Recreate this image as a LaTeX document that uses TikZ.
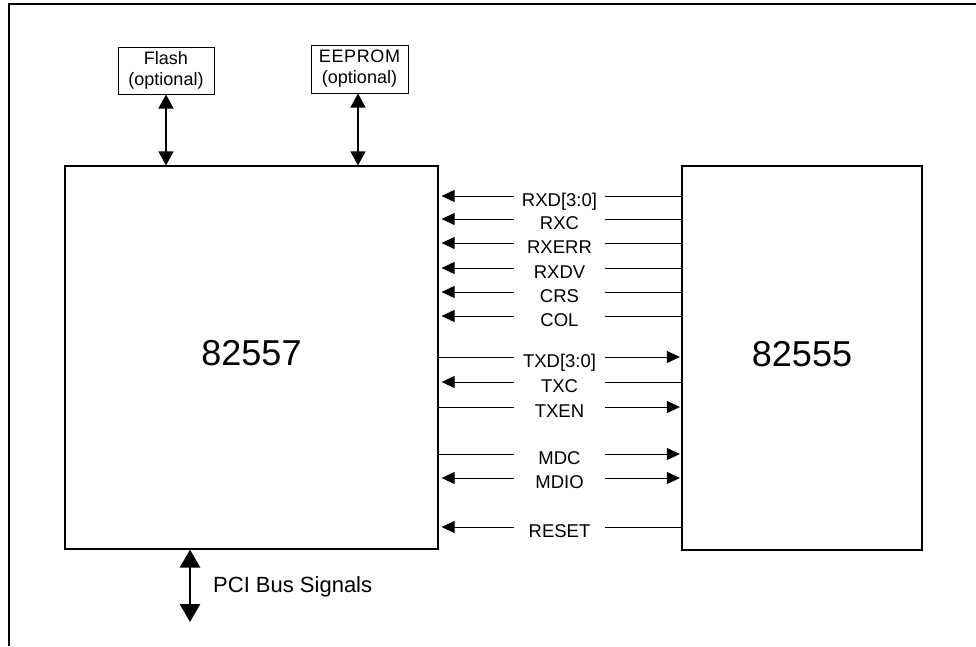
\documentclass[tikz,border=0pt]{standalone}
\usepackage{fontspec}
\setmainfont{Liberation Sans}
\usetikzlibrary{arrows.meta,positioning}
\tikzset{
  chipbox/.style={draw,line width=1.2pt,inner sep=0pt,font=\fontsize{36}{40}\selectfont,text height=26pt,text depth=10pt},
  membox/.style={draw,line width=1pt,inner sep=0pt,align=center,font=\fontsize{18}{21}\selectfont},
  siglabel/.style={inner sep=0pt,minimum width=91pt,font=\fontsize{18.5}{20}\selectfont,text height=22pt,text depth=2pt},
  sigwire/.style={line width=0.9pt},
  sigleft/.style={-{Triangle[length=13pt,width=12pt]},line width=0.9pt,shorten >=3pt},
  sigright/.style={-{Triangle[length=13pt,width=12pt]},line width=0.9pt,shorten >=1.5pt},
  sigboth/.style={{Triangle[length=13pt,width=12pt]}-{Triangle[length=13pt,width=12pt]},line width=0.9pt},
  memarrow/.style={{Triangle[length=14pt,width=15pt]}-{Triangle[length=14pt,width=15pt]},line width=1.2pt},
  busarrow/.style={{Triangle[length=18pt,width=20pt]}-{Triangle[length=18pt,width=20pt]},line width=2.6pt},
}

\begin{document}
\begin{tikzpicture}[x=1pt,y=-1pt]
  \useasboundingbox (0,0) rectangle (976,646);
  % outer frame
  \draw[line width=2.6pt] (976,4) -- (9,4) -- (9,646);

  % chips
  \node[chipbox,minimum width=373pt,minimum height=383pt] (m57) at (251.5,357.5) {82557};
  \node[chipbox,minimum width=240pt,minimum height=384pt] (m55) at (802,358) {82555};

  % optional memories
  \node[membox,minimum width=96pt,minimum height=47pt] (flash) at (166,70.5) {Flash\\(optional)};
  \node[membox,minimum width=97pt,minimum height=48pt] (eeprom) at (359.5,69) {E\kern0.6pt E\kern0.6pt P\kern0.6pt R\kern0.6pt O\kern0.6pt M\\(optional)};
  \draw[memarrow] (flash.south) -- (flash.south |- m57.north);
  \draw[memarrow] ([xshift=-1.5pt]eeprom.south) -- ([xshift=-1.5pt]eeprom.south |- m57.north);

  % MII signals
  \node[siglabel] (rxd) at (559.5,196) {RXD[3:0]};
  \node[siglabel] (rxc) at (559.5,219) {RXC};
  \node[siglabel] (rxerr) at (559.5,243) {RXERR};
  \node[siglabel] (rxdv) at (559.5,268) {RXDV};
  \node[siglabel] (crs) at (559.5,292) {CRS};
  \node[siglabel] (col) at (559.5,316) {COL};
  \node[siglabel] (txd) at (559.5,357) {TXD[3:0]};
  \node[siglabel] (txc) at (559.5,382) {TXC};
  \node[siglabel] (txen) at (559.5,407) {TXEN};
  \node[siglabel] (mdc) at (559.5,454) {MDC};
  \node[siglabel] (mdio) at (559.5,478) {MDIO};
  \node[siglabel] (reset) at (559.5,527) {RESET};

  \draw[sigleft] (rxd.west) -- (rxd.west -| m57.east); \draw[sigwire] (rxd.east) -- (rxd.east -| m55.west);
  \draw[sigleft] (rxc.west) -- (rxc.west -| m57.east); \draw[sigwire] (rxc.east) -- (rxc.east -| m55.west);
  \draw[sigleft] (rxerr.west) -- (rxerr.west -| m57.east); \draw[sigwire] (rxerr.east) -- (rxerr.east -| m55.west);
  \draw[sigleft] (rxdv.west) -- (rxdv.west -| m57.east); \draw[sigwire] (rxdv.east) -- (rxdv.east -| m55.west);
  \draw[sigleft] (crs.west) -- (crs.west -| m57.east); \draw[sigwire] (crs.east) -- (crs.east -| m55.west);
  \draw[sigleft] (col.west) -- (col.west -| m57.east); \draw[sigwire] (col.east) -- (col.east -| m55.west);
  \draw[sigwire] (txd.west) -- (txd.west -| m57.east); \draw[sigright] (txd.east) -- (txd.east -| m55.west);
  \draw[sigleft] (txc.west) -- (txc.west -| m57.east); \draw[sigwire] (txc.east) -- (txc.east -| m55.west);
  \draw[sigwire] (txen.west) -- (txen.west -| m57.east); \draw[sigright] (txen.east) -- (txen.east -| m55.west);
  \draw[sigwire] (mdc.west) -- (mdc.west -| m57.east); \draw[sigright] (mdc.east) -- (mdc.east -| m55.west);
  \draw[sigleft] (mdio.west) -- (mdio.west -| m57.east); \draw[sigright] (mdio.east) -- (mdio.east -| m55.west);
  \draw[sigleft] (reset.west) -- (reset.west -| m57.east); \draw[sigwire] (reset.east) -- (reset.east -| m55.west);

  % PCI bus
  \coordinate (pcibus) at (190,622);
  \node[anchor=west,inner sep=0pt,font=\fontsize{22}{24}\selectfont] (pcilbl) at (213,587) {PCI Bus Signals};
  \draw[busarrow] (m57.south -| pcibus) -- (pcibus);
\end{tikzpicture}
\end{document}
